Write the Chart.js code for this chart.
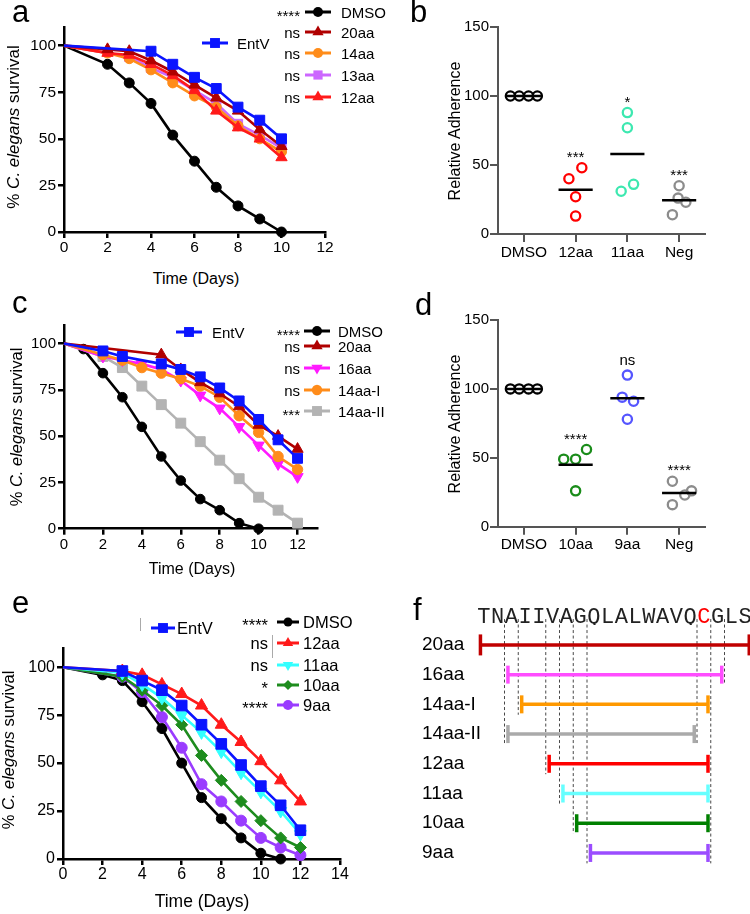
<!DOCTYPE html>
<html><head><meta charset="utf-8"><title>EntV peptide survival and adherence</title>
<script src="https://cdn.jsdelivr.net/npm/chart.js@4.4.1/dist/chart.umd.min.js"></script>
<style>
html,body{margin:0;padding:0;background:#fff;overflow:hidden}
#root{position:relative;width:750px;height:914px;overflow:hidden;font-family:"Liberation Sans",Arial,Helvetica,sans-serif;color:#000}
canvas{position:absolute}
.t{position:absolute;white-space:nowrap}
</style></head>
<body><div id="root"></div>
<script>
// ===== DATA =====
// Panel a : % C. elegans survival vs time (days)
const aDays      = [0,2,3,4,5,6,7,8,9,10];
const aEntVDays  = [0,4,5,6,7,8,9,10];
const a13aaDays  = [0,3,4,5,6,7,8,9,10];
const aDMSO = [100,90,80,69,52,38,24,14,7,0];
const aEntV = [100,97,90,83,77,67,60,50];
const a20aa = [100,98,97,92,86,79,72,65,55,46];
const a14aa = [100,96,93,87,80,73,67,57,50,43];
const a13aa = [100,94,88,83,76,69,58,52,45];
const a12aa = [100,96,95,90,84,76,65,56,50,40];
const aLegend = ['DMSO','20aa','14aa','13aa','12aa'];
const aSig    = ['****','ns','ns','ns','ns'];

// Panel b : relative adherence
const bGroups = ['DMSO','12aa','11aa','Neg'];
const bDMSO = [100,100,100,100];
const b12aa = [48,40,27,13];
const b11aa = [88,77,31,36];
const bNeg  = [35,26,23,14];
const bJitter = [[-0.26,-0.09,0.09,0.26],[0.12,-0.13,0,0],[0,0,-0.12,0.12],[0,-0.02,0.13,-0.13]];
const bSig = ['','***','*','***'];

// Panel c
const cDMSODays = [0,1,2,3,4,5,6,7,8,9,10];
const cDMSO     = [100,97,84,71,55,39,26,16,10,3,0];
const cEntVDays = [0,2,3,5,6,7,8,9,10,11,12];
const cEntV     = [100,96,93,89,86,82,76,69,59,48,38];
const c20aaDays = [0,5,6,7,8,9,10,11,12];
const c20aa     = [100,94,86,79,73,66,56,50,43];
const cDays     = [0,2,3,4,5,6,7,8,9,10,11,12];
const c16aa     = [100,93,91,89,86,80,72,65,55,45,35,28];
const c14aaI    = [100,94,91,87,84,81,77,71,61,52,39,32];
const c14aaII   = [100,93,87,77,67,57,47,37,27,17,10,3];
const cLegend = ['DMSO','20aa','16aa','14aa-I','14aa-II'];
const cSig    = ['****','ns','ns','ns','***'];

// Panel d
const dGroups = ['DMSO','10aa','9aa','Neg'];
const dDMSO = [100,100,100,100];
const d10aa = [49,49,56,26];
const d9aa  = [110,94,91,78];
const dNeg  = [33,26,23,16];
const dJitter = [[-0.26,-0.09,0.09,0.26],[-0.23,0,0.21,0],[0,-0.1,0.12,0],[-0.13,0.24,0.11,-0.13]];
const dSig = ['','****','ns','****'];

// Panel e
const eDMSODays = [0,2,3,4,5,6,7,8,9,10,11];
const eDMSO     = [100,96,93,82,68,50,32,21,11,3,0];
const eDays     = [0,3,4,5,6,7,8,9,10,11,12];
const e12aa     = [100,98,96,91,86,80,70,61,51,41,30];
const eEntV     = [100,98,93,88,80,70,60,49,38,28,15];
const e11aa     = [100,97,91,84,75,66,56,45,35,25,13];
const e10aa     = [100,95,88,80,70,54,41,30,20,11,6];
const e9aa      = [100,95,87,74,58,39,30,20,11,6,2];
const eLegend = ['DMSO','12aa','11aa','10aa','9aa'];
const eSig    = ['****','ns','ns','*','****'];

// Panel f : peptide map
const fResidues = ['T','N','A','I','I','V','A','G','Q','L','A','L','W','A','V','Q','C','G','L','S'];
const fHighlightResidue = 17;   // the C
const fPeptides = ['20aa','16aa','14aa-I','14aa-II','12aa','11aa','10aa','9aa'];
const fStart = [1,3,4,3,6,7,8,9];
const fEnd   = [20,18,17,16,17,17,17,17];

// ===== STYLE / HELPERS =====
const FONT = '"Liberation Sans", Arial, Helvetica, sans-serif';
Chart.defaults.font.family = FONT;
Chart.defaults.color = '#000';
const root = document.getElementById('root');

function mkCanvas(b){
  const c = document.createElement('canvas');
  c.width = b.w; c.height = b.h;
  c.style.left = b.x+'px'; c.style.top = b.y+'px';
  c.style.width = b.w+'px'; c.style.height = b.h+'px';
  root.appendChild(c); return c;
}
function text(html, x, yc, size, align, dy){
  const d = document.createElement('div'); d.className = 't';
  d.innerHTML = html;
  d.style.fontSize = size+'px'; d.style.lineHeight = size+'px';
  d.style.top = (yc - size/2 + (dy||0))+'px';
  if (align === 'right') d.style.right = (750 - x)+'px';
  else if (align === 'center'){ d.style.left = x+'px'; d.style.transform = 'translateX(-50%)'; }
  else d.style.left = x+'px';
  root.appendChild(d); return d;
}
function vtext(html, xc, yc, size){
  const d = document.createElement('div'); d.className = 't';
  d.innerHTML = html;
  d.style.fontSize = size+'px'; d.style.lineHeight = size+'px';
  d.style.left = xc+'px'; d.style.top = yc+'px';
  d.style.transform = 'translate(-50%,-50%) rotate(-90deg)';
  root.appendChild(d); return d;
}
function panelLetter(ch, x, baseline){ text(ch, x, baseline - 0.8465*31 + 15.5, 31, 'left'); }
function vline(x, y0, y1){
  const d = document.createElement('div');
  Object.assign(d.style,{position:'absolute',left:x+'px',top:y0+'px',width:'1px',height:(y1-y0)+'px',background:'#aaa'});
  root.appendChild(d);
}
const SHAPES = {
  circle:{pointStyle:'circle', rot:0},
  tri:{pointStyle:'triangle', rot:0},
  itri:{pointStyle:'triangle', rot:180},
  sq:{pointStyle:'rect', rot:0},
  dia:{pointStyle:'rectRot', rot:0}
};
function shapeSVG(shape, cx, cy, r, color){
  if (shape==='circle') return `<circle cx="${cx}" cy="${cy}" r="${r}" fill="${color}"/>`;
  if (shape==='sq'){ const s=r*Math.SQRT1_2; return `<rect x="${cx-s}" y="${cy-s}" width="${2*s}" height="${2*s}" fill="${color}"/>`; }
  if (shape==='dia') return `<polygon points="${cx},${cy-r} ${cx+r},${cy} ${cx},${cy+r} ${cx-r},${cy}" fill="${color}"/>`;
  const k=0.866*r, h=0.5*r;
  if (shape==='tri') return `<polygon points="${cx},${cy-r} ${cx+k},${cy+h} ${cx-k},${cy+h}" fill="${color}"/>`;
  return `<polygon points="${cx},${cy+r} ${cx+k},${cy-h} ${cx-k},${cy-h}" fill="${color}"/>`;
}
function marker(shape, color, xc, yc, w, r){
  const H = 24;
  const wrap = document.createElement('div');
  wrap.style.position='absolute'; wrap.style.left=(xc-w/2)+'px'; wrap.style.top=(yc-H/2)+'px';
  wrap.innerHTML = `<svg width="${w}" height="${H}" style="display:block;overflow:visible"><line x1="0" y1="${H/2}" x2="${w}" y2="${H/2}" stroke="${color}" stroke-width="3"/>${shapeSVG(shape,w/2,H/2,r,color)}</svg>`;
  root.appendChild(wrap);
}
function legendRow(sig, label, color, shape, r, y, o){
  if (sig) text(sig, o.sigRight, y, o.size, 'right', /\*/.test(sig) ? 3 : 0);
  marker(shape, color, o.mx, y, o.mw, r);
  text(label, o.tx, y, o.size, 'left');
}

function series(days, vals, color, shape, r){
  const s = SHAPES[shape];
  return {
    type:'line',
    data: days.map((d,i)=>({x:d, y:vals[i]})),
    borderColor:color, backgroundColor:color,
    pointBackgroundColor:color, pointBorderColor:color,
    pointStyle:s.pointStyle, pointRotation:s.rot,
    pointRadius: c => c.dataIndex===0 ? 0 : r,
    pointBorderWidth:1, borderWidth:2.6, tension:0, clip:false
  };
}
function lineChart(box, area, xMax, tickSize, padX, datasets){
  const axisGrid = {drawOnChartArea:false, drawTicks:true, tickLength:6, color:'#000', lineWidth:2.5};
  const axisBorder = {color:'#000', width:2.5};
  new Chart(mkCanvas(box), {
    type:'scatter',
    data:{datasets},
    options:{
      responsive:false, animation:false, devicePixelRatio:1,
      layout:{autoPadding:false, padding:{top:area.y0-box.y, right:box.x+box.w-area.x1, left:0, bottom:0}},
      plugins:{legend:{display:false}, tooltip:{enabled:false}},
      scales:{
        x:{type:'linear', min:0, max:xMax,
           afterFit:s=>{s.height = box.y+box.h-area.y1;},
           ticks:{stepSize:2, includeBounds:false, font:{size:tickSize}, color:'#000', padding:padX, maxRotation:0},
           grid:axisGrid, border:axisBorder},
        y:{type:'linear', min:0, max:110,
           afterFit:s=>{s.width = area.x0-box.x;},
           ticks:{stepSize:25, includeBounds:false, font:{size:tickSize}, color:'#000', padding:2},
           grid:axisGrid, border:axisBorder}
      }
    }
  });
}

const starPlugin = {
  id:'stars',
  afterDatasetsDraw(chart, args, opts){
    const {ctx, scales:{x, y}} = chart;
    ctx.save();
    ctx.font = '15px '+FONT; ctx.fillStyle = '#000'; ctx.textAlign = 'center'; ctx.textBaseline = 'alphabetic';
    opts.labels.forEach((lab,i)=>{
      if (!lab) return;
      const top = Math.max(...opts.values[i]);
      const px = x.getPixelForValue(i+1);
      const yc = y.getPixelForValue(top) - 14.5;
      const base = /\*/.test(lab) ? yc + 8.6 : yc + 4.5;
      ctx.fillText(lab, px, base);
    });
    ctx.restore();
  }
};
function dotChart(box, area, groups, vals, jit, colors, sig, yMax){
  const ds = [];
  groups.forEach((g,i)=>{
    const m = vals[i].reduce((a,b)=>a+b,0)/vals[i].length;
    ds.push({type:'line', data:[{x:i+1-0.33,y:m},{x:i+1+0.33,y:m}], borderColor:'#000', borderWidth:2.5, pointRadius:0, clip:false});
  });
  groups.forEach((g,i)=>{
    ds.push({type:'scatter', data: vals[i].map((v,k)=>({x:i+1+jit[i][k], y:v})),
      pointStyle:'circle', pointRadius:4.6, pointBorderWidth:2.3,
      pointBorderColor:colors[i], pointBackgroundColor:'rgba(255,255,255,0)', showLine:false, clip:false});
  });
  const g = {drawOnChartArea:false, drawTicks:true, tickLength:8, color:'#555', lineWidth:2};
  const b = {color:'#555', width:2};
  new Chart(mkCanvas(box), {
    type:'scatter',
    data:{datasets:ds},
    options:{
      responsive:false, animation:false, devicePixelRatio:1,
      layout:{autoPadding:false, padding:{top:area.y0-box.y, right:box.x+box.w-area.x1, left:0, bottom:0}},
      plugins:{legend:{display:false}, tooltip:{enabled:false}, stars:{labels:sig, values:vals}},
      scales:{
        x:{type:'linear', min:0.5, max:groups.length+0.5,
           afterBuildTicks:a=>{a.ticks = groups.map((gg,i)=>({value:i+1}));},
           afterFit:s=>{s.height = box.y+box.h-area.y1;},
           ticks:{callback:(v,i)=>groups[i], font:{size:15.5}, color:'#000', padding:1, autoSkip:false, maxRotation:0},
           grid:g, border:b},
        y:{type:'linear', min:0, max:yMax,
           afterFit:s=>{s.width = area.x0-box.x;},
           ticks:{stepSize:50, font:{size:15}, color:'#000', padding:1},
           grid:g, border:b}
      }
    },
    plugins:[starPlugin]
  });
}

// ===== COLOURS =====
const C = {
  black:'#000000', blue:'#0a14ff', darkred:'#b00000', orange:'#ff8c1a', violet:'#cc66ff', red:'#ff1a1a',
  magenta:'#ff1aff', grey:'#b3b3b3', cyan:'#33ffff', green:'#1e8c1e', purple:'#9a3cff',
  turq:'#3de8b0', blue9:'#5555ff', green10:'#1a8c1a', neg:'#8c8c8c'
};

// ===== PANEL a =====
lineChart({x:0,y:0,w:380,h:270},{x0:64,y0:27,x1:325,y1:232},12,15.5,0,[
  series(aEntVDays,aEntV,C.blue,'sq',7),
  series(aDays,a20aa,C.darkred,'tri',6.5),
  series(aDays,a12aa,C.red,'tri',6.5),
  series(aDays,a14aa,C.orange,'circle',5),
  series(a13aaDays,a13aa,C.violet,'sq',6.5),
  series(aDays,aDMSO,C.black,'circle',5)
]);

// ===== PANEL b =====
dotChart({x:380,y:0,w:370,h:270},{x0:498,y0:27,x1:705,y1:234},bGroups,[bDMSO,b12aa,b11aa,bNeg],bJitter,
  [C.black,'#ff0000',C.turq,C.neg],bSig,150);

// ===== PANEL c =====
lineChart({x:0,y:290,w:380,h:290},{x0:64,y0:325,x1:317,y1:528.7},13,15,1,[
  series(cEntVDays,cEntV,C.blue,'sq',7),
  series(c20aaDays,c20aa,C.darkred,'tri',6.5),
  series(cDays,c14aaI,C.orange,'circle',5.2),
  series(cDays,c16aa,C.magenta,'itri',6.5),
  series(cDays,c14aaII,C.grey,'sq',7),
  series(cDMSODays,cDMSO,C.black,'circle',4.8)
]);

// ===== PANEL d =====
dotChart({x:380,y:290,w:370,h:280},{x0:498,y0:320,x1:705,y1:526.7},dGroups,[dDMSO,d10aa,d9aa,dNeg],dJitter,
  [C.black,C.green10,C.blue9,C.neg],dSig,150);

// ===== PANEL e =====
lineChart({x:0,y:585,w:380,h:329},{x0:63,y0:648,x1:340,y1:859},14,16,0,[
  series(eDays,eEntV,C.blue,'sq',7.5),
  series(eDays,e12aa,C.red,'tri',7),
  series(eDays,e11aa,C.cyan,'itri',7),
  series(eDays,e10aa,C.green,'dia',6),
  series(eDays,e9aa,C.purple,'circle',5.5),
  series(eDMSODays,eDMSO,C.black,'circle',5)
]);

// ===== PANEL f =====
(function(){
  const box = {x:380,y:580,w:372,h:300};
  const YMIN = -0.67, YMAX = 7.91;
  const fColors = ['#c00000','#ff4dff','#ff9900','#aaaaaa','#ff0000','#66ffff','#008000','#9b4dff'];
  const ds = [];
  fPeptides.forEach((p,i)=>{
    ds.push({type:'line', data:[{x:fStart[i]-1+0.25,y:i},{x:fEnd[i]-0.2,y:i}],
      borderColor:fColors[i], borderWidth:3.5, pointStyle:'line', pointRotation:90,
      pointRadius: i===0 ? 10.5 : 9, pointBorderWidth:3.5, pointBorderColor:fColors[i], clip:false});
  });
  const guide = {};
  fPeptides.forEach((p,i)=>{
    [fStart[i]-1, fEnd[i]].forEach(bd=>{
      if (bd>0 && bd<fResidues.length) guide[bd] = Math.max(guide[bd] ?? -1, i);
    });
  });
  Object.keys(guide).forEach(bd=>{
    ds.push({type:'line', data:[{x:+bd,y:YMIN-0.2},{x:+bd,y:guide[bd]+0.35}], borderColor:'#333', borderWidth:0.9,
      borderDash:[3,2.5], pointRadius:0, clip:false});
  });
  const rowLabels = {
    id:'rowLabels',
    afterDraw(chart){
      const {ctx, scales:{y}} = chart;
      ctx.save();
      ctx.font = '19px '+FONT; ctx.fillStyle = '#000'; ctx.textAlign = 'left'; ctx.textBaseline = 'middle';
      fPeptides.forEach((p,i)=>ctx.fillText(p, 42, y.getPixelForValue(i)));
      ctx.restore();
    }
  };
  new Chart(mkCanvas(box), {
    type:'scatter',
    data:{datasets:ds},
    options:{
      responsive:false, animation:false, devicePixelRatio:1,
      layout:{autoPadding:false, padding:{top:0, right:0, left:42, bottom:0}},
      plugins:{legend:{display:false}, tooltip:{enabled:false}},
      scales:{
        x:{type:'linear', position:'top', min:0, max:fResidues.length,
           afterBuildTicks:a=>{a.ticks = fResidues.map((r,i)=>({value:i+0.5}));},
           afterFit:s=>{s.height = 45;},
           ticks:{callback:(v,i)=>fResidues[i], autoSkip:false, maxRotation:0, padding:-5,
                  font:{family:'"Liberation Mono","DejaVu Sans Mono",monospace', size:22},
                  color:c => (c.index === fHighlightResidue-1 ? '#ff0000' : '#222')},
           grid:{display:false, drawTicks:false}, border:{display:false}},
        y:{type:'linear', reverse:true, min:YMIN, max:YMAX,
           afterBuildTicks:a=>{a.ticks = fPeptides.map((p,i)=>({value:i}));},
           afterFit:s=>{s.width = 55;},
           ticks:{display:false},
           grid:{display:false, drawTicks:false}, border:{display:false}}
      }
    },
    plugins:[rowLabels]
  });
})();

// ===== TEXT OVERLAYS =====
panelLetter('a', 12, 22);
panelLetter('b', 410, 22);
panelLetter('c', 12, 313);
panelLetter('d', 415, 315);
panelLetter('e', 12, 613);
panelLetter('f', 413, 620);

const SURV = '% <i>C. elegans</i> survival';
vtext(SURV, 13, 127, 17);
vtext(SURV, 16, 427, 16.5);
vtext(SURV, 8, 750, 16.5);
text('Time (Days)', 196, 279, 16, 'center');
text('Time (Days)', 192, 569, 16, 'center');
text('Time (Days)', 202, 902, 17.5, 'center');
vtext('Relative Adherence', 455, 131, 16);
vtext('Relative Adherence', 455, 424, 16);

// legend a
const aCols = [C.black,C.darkred,C.orange,C.violet,C.red];
const aShp  = ['circle','tri','circle','sq','tri'];
const aRad  = [5,6.5,5,6.5,6.5];
const aRowY = [12,32,53,75,97];
aLegend.forEach((l,i)=>legendRow(aSig[i], l, aCols[i], aShp[i], aRad[i], aRowY[i], {sigRight:300, mx:318, mw:26, tx:341, size:15}));
marker('sq', C.blue, 215, 43, 26, 7); text('EntV', 237, 43, 15, 'left');

// legend c
const cCols = [C.black,C.darkred,C.magenta,C.orange,C.grey];
const cShp  = ['circle','tri','itri','circle','sq'];
const cRad  = [5,6.5,6.5,5.2,7];
const cRowY = [331,346,368,390,411];
cLegend.forEach((l,i)=>legendRow(cSig[i], l, cCols[i], cShp[i], cRad[i], cRowY[i], {sigRight:300, mx:317, mw:26, tx:338, size:15}));
marker('sq', C.blue, 189, 332, 26, 7); text('EntV', 212, 332, 15, 'left');

// legend e
const eCols = [C.black,C.red,C.cyan,C.green,C.purple];
const eShp  = ['circle','tri','itri','dia','circle'];
const eRad  = [4.5,6,6,5,5];
const eRowY = [622,643,665,685,705];
eLegend.forEach((l,i)=>legendRow(eSig[i], l, eCols[i], eShp[i], eRad[i], eRowY[i], {sigRight:268, mx:288, mw:22, tx:303, size:16.5}));
marker('sq', C.blue, 163, 628, 24, 7); text('EntV', 177, 628, 16.5, 'left');
vline(140, 618, 631);
vline(272, 635, 658);
</script>
</body></html>
